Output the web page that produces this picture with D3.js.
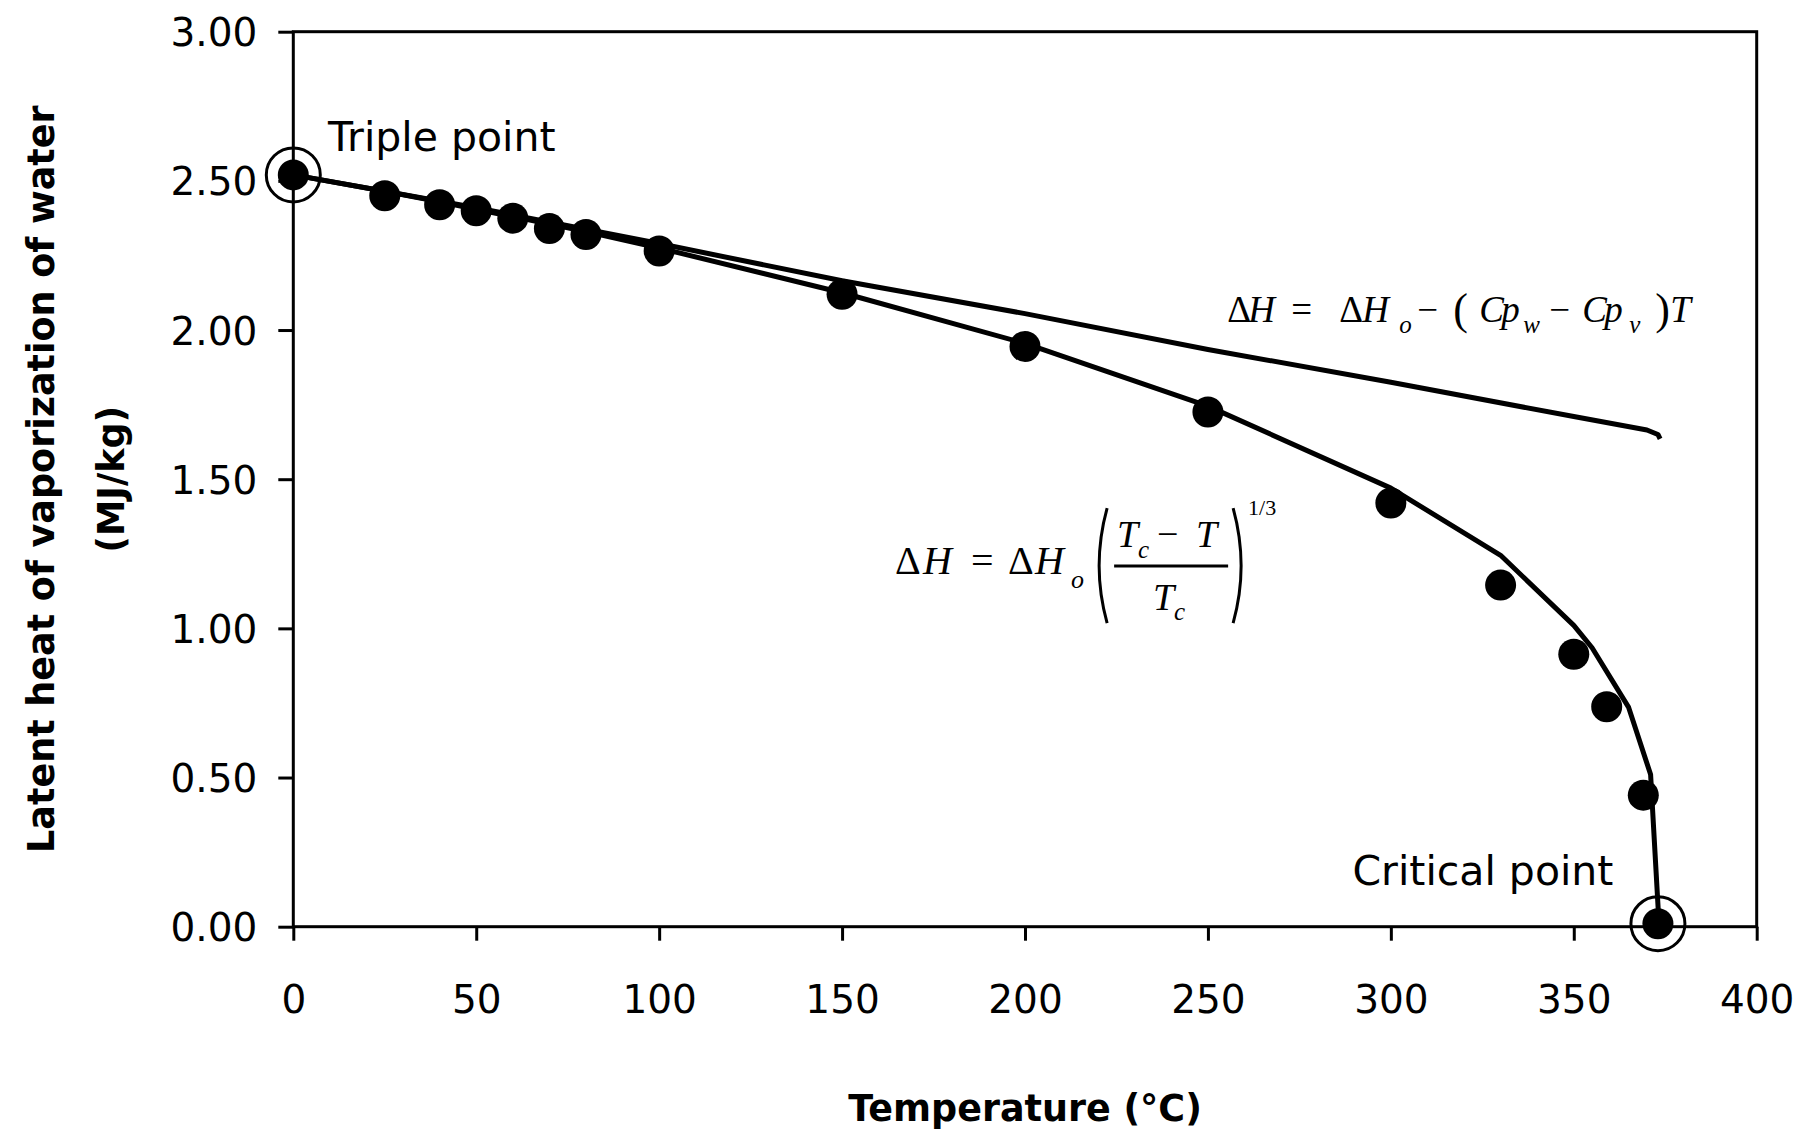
<!DOCTYPE html>
<html>
<head>
<meta charset="utf-8">
<script src="https://cdn.jsdelivr.net/npm/d3@7"></script>
<style>
    body { margin: 0; background: #fff; }
    #vis { width: 1800px; height: 1134px; }
    .axis text { font-family: "Comic Sans MS", "DejaVu Sans", sans-serif; font-size: 39px; fill: #000; }
    .axis line { stroke: #000; stroke-width: 3px; }
    .axis path { display: none; }
    .title { font-family: "Comic Sans MS", "DejaVu Sans", sans-serif; font-weight: bold; font-size: 36.5px; }
    .note { font-family: "Comic Sans MS", "DejaVu Sans", sans-serif; font-size: 41px; }
    .eq { font-family: "Liberation Serif", "DejaVu Serif", serif; font-style: italic; }
</style>
</head>
<body>
<div id="vis"></div>
<script>
// measured latent heat (points)
var temps = [0, 25, 40, 50, 60, 70, 80, 100, 150, 200, 250, 300, 330, 350, 359, 369, 373];
var latent = [2.52, 2.45, 2.42, 2.40, 2.375, 2.34, 2.32, 2.265, 2.12, 1.945, 1.725, 1.42, 1.145, 0.913, 0.737, 0.441, 0.01];

// curve from the 1/3 power relation
var powT = [0, 25, 40, 50, 60, 70, 80, 100, 150, 200, 250, 300, 330, 350, 355, 365, 371, 373.3];
var powH = [2.52, 2.465, 2.43, 2.405, 2.38, 2.355, 2.33, 2.275, 2.125, 1.955, 1.745, 1.47, 1.245, 1.01, 0.935, 0.735, 0.51, 0.01];

// curve from the linear Cp relation
var linT = [0, 25, 50, 100, 150, 200, 250, 300, 350, 370, 373, 373.6];
var linH = [2.52, 2.465, 2.41, 2.29, 2.165, 2.055, 1.935, 1.825, 1.71, 1.665, 1.65, 1.635];

var xTicks = [0, 50, 100, 150, 200, 250, 300, 350, 400];
var yTicks = [0, 0.5, 1, 1.5, 2, 2.5, 3];

var width = document.getElementById('vis').clientWidth;
var height = document.getElementById('vis').clientHeight;

var margin = {
    top: 31.7,
    bottom: 207.3,
    left: 293.3,
    right: 43.3
};

var svg = d3.select('#vis')
    .append('svg')
    .attr('width', width)
    .attr('height', height);

var g = svg.append('g')
    .attr('transform', 'translate(' + margin.left + ',' + margin.top + ')');

width = width - margin.left - margin.right;
height = height - margin.top - margin.bottom;

var x_scale = d3.scaleLinear()
    .domain([0, 400])
    .range([0, width]);

var y_scale = d3.scaleLinear()
    .domain([0, 3])
    .range([height, 0]);

var x_axis = d3.axisBottom(x_scale)
    .tickValues(xTicks)
    .tickSize(14)
    .tickFormat(d3.format('d'));

var y_axis = d3.axisLeft(y_scale)
    .tickValues(yTicks)
    .tickSize(15)
    .tickPadding(21)
    .tickFormat(d3.format('.2f'));

g.append('g')
    .attr('class', 'x axis')
    .attr('transform', 'translate(0,' + height + ')')
    .call(x_axis)
    .selectAll('text')
    .attr('y', 86)
    .attr('dy', 0);

g.append('g')
    .attr('class', 'y axis')
    .call(y_axis)
    .selectAll('text')
    .attr('dy', '0.36em');

// frame
g.append('rect')
    .attr('width', width)
    .attr('height', height)
    .attr('fill', 'none')
    .attr('stroke', '#000')
    .attr('stroke-width', 3);

var line = d3.line()
    .x(function(d) { return x_scale(d[0]); })
    .y(function(d) { return y_scale(d[1]); });

g.append('path')
    .datum(d3.zip(linT, linH))
    .attr('d', line)
    .attr('fill', 'none')
    .attr('stroke', '#000')
    .attr('stroke-width', 5)
    .attr('stroke-linejoin', 'round');

g.append('path')
    .datum(d3.zip(powT, powH))
    .attr('d', line)
    .attr('fill', 'none')
    .attr('stroke', '#000')
    .attr('stroke-width', 5)
    .attr('stroke-linejoin', 'round');

var pts = d3.zip(temps, latent);

g.selectAll('.dot')
    .data(pts)
    .enter()
    .append('circle')
    .attr('class', 'dot')
    .attr('cx', function(d) { return x_scale(d[0]); })
    .attr('cy', function(d) { return y_scale(d[1]); })
    .attr('r', 15.5)
    .attr('fill', '#000');

// rings round the triple and critical points
g.selectAll('.ring')
    .data([pts[0], pts[pts.length - 1]])
    .enter()
    .append('circle')
    .attr('class', 'ring')
    .attr('cx', function(d) { return x_scale(d[0]); })
    .attr('cy', function(d) { return y_scale(d[1]); })
    .attr('r', 27)
    .attr('fill', 'none')
    .attr('stroke', '#000')
    .attr('stroke-width', 3);

g.append('text')
    .attr('class', 'note')
    .attr('x', x_scale(9.5))
    .attr('y', y_scale(2.6))
    .text('Triple point');

g.append('text')
    .attr('class', 'note')
    .attr('x', x_scale(289.5))
    .attr('y', y_scale(0.139))
    .text('Critical point');

// equation pieces: [text, x offset, y offset, size, upright]
function drawPieces(parent, pieces) {
    parent.selectAll('text')
        .data(pieces)
        .enter()
        .append('text')
        .attr('class', 'eq')
        .attr('x', function(d) { return d[1]; })
        .attr('y', function(d) { return d[2]; })
        .style('font-size', function(d) { return d[3] + 'px'; })
        .style('font-style', function(d) { return d[4] ? 'normal' : 'italic'; })
        .text(function(d) { return d[0]; });
}

// equation for the linear curve
var eq1 = g.append('g')
    .attr('transform', 'translate(' + x_scale(255.3) + ',' + y_scale(2.027) + ')');

drawPieces(eq1, [
    ['\u0394', 0, 0, 37, true], ['H', 21, 0, 37], ['=', 64, 0, 37, true],
    ['\u0394', 112, 0, 37, true], ['H', 135, 0, 37], ['o', 172, 11, 25],
    ['\u2212', 190, 0, 37, true], ['(', 226, 2, 44, true], ['C', 252, 0, 37],
    ['p', 274, 0, 37], ['w', 296, 11, 25], ['\u2212', 322, 0, 37, true],
    ['C', 355, 0, 37], ['p', 377, 0, 37], ['v', 402, 11, 25],
    [')', 428, 2, 44, true], ['T', 443, 0, 37]
]);

// equation for the 1/3 power curve
var eq2 = g.append('g')
    .attr('transform', 'translate(' + x_scale(164.5) + ',' + y_scale(1.182) + ')');

drawPieces(eq2, [
    ['\u0394', 0, 0, 40, true], ['H', 28, 0, 40], ['=', 76, 0, 40, true],
    ['\u0394', 113, 0, 40, true], ['H', 140, 0, 40], ['o', 176, 14, 26],
    ['T', 222, -27, 38], ['c', 243, -16, 25], ['\u2212', 262, -27, 38, true],
    ['T', 301, -27, 38], ['T', 258, 36, 38], ['c', 279, 46, 25],
    ['1/3', 353, -59, 22, true]
]);

eq2.append('path')
    .attr('d', 'M212,-66 Q196,-8 212,49')
    .attr('fill', 'none').attr('stroke', '#000').attr('stroke-width', 3);
eq2.append('path')
    .attr('d', 'M338,-66 Q354,-8 338,49')
    .attr('fill', 'none').attr('stroke', '#000').attr('stroke-width', 3);
eq2.append('line')
    .attr('x1', 219).attr('x2', 333).attr('y1', -8).attr('y2', -8)
    .attr('stroke', '#000').attr('stroke-width', 3);

// axis titles
svg.append('text')
    .attr('class', 'title')
    .attr('x', margin.left + width / 2)
    .attr('y', 1121)
    .attr('text-anchor', 'middle')
    .text('Temperature (\u00B0C)');

svg.append('text')
    .attr('class', 'title')
    .attr('transform', 'translate(54,' + (margin.top + height / 2) + ') rotate(-90)')
    .attr('text-anchor', 'middle')
    .text('Latent heat of vaporization of water');

svg.append('text')
    .attr('class', 'title')
    .attr('transform', 'translate(124,' + (margin.top + height / 2) + ') rotate(-90)')
    .attr('text-anchor', 'middle')
    .text('(MJ/kg)');
</script>
</body>
</html>
